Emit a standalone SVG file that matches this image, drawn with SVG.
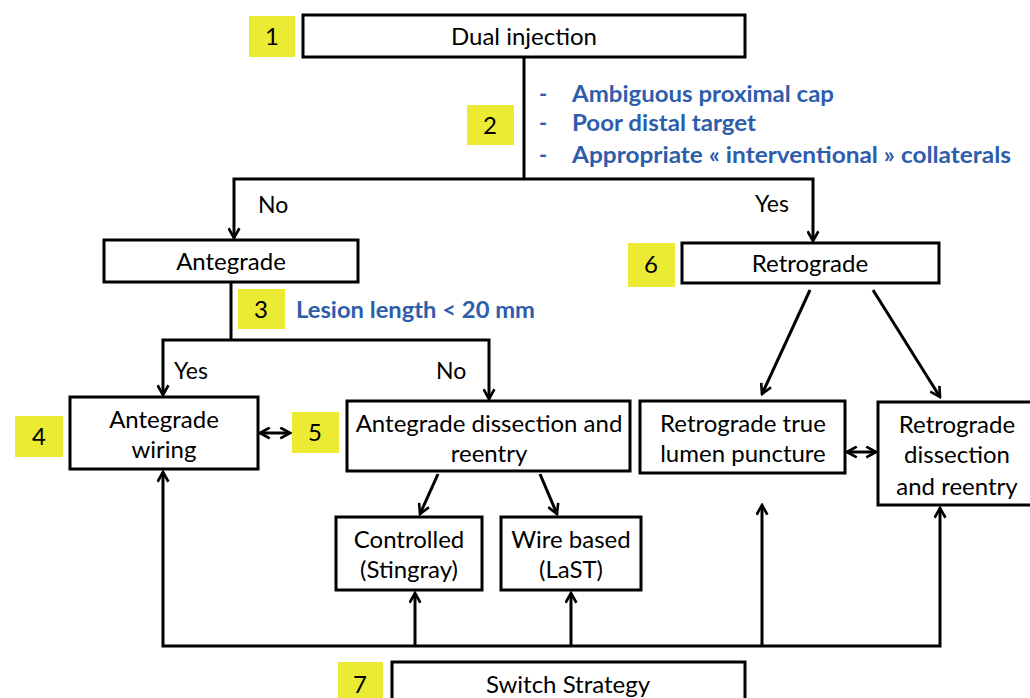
<svg xmlns="http://www.w3.org/2000/svg" width="1030" height="698" viewBox="0 0 1030 698">
<style>
.box{fill:#fff;stroke:#000;stroke-width:3}
.tag{fill:#EBEB33}
.t{font-family:Lato,"Open Sans","Liberation Sans",sans-serif;font-size:24px;fill:#000;text-anchor:middle}
.n{font-family:Lato,"Open Sans","Liberation Sans",sans-serif;font-size:24px;fill:#000;text-anchor:middle}
.b{font-family:Lato,"Open Sans","Liberation Sans",sans-serif;font-size:22px;font-weight:bold;fill:#2E5DAB}
.c{fill:none;stroke:#000;stroke-width:3}
.lbl{font-family:Lato,"Open Sans","Liberation Sans",sans-serif;font-size:23px;fill:#000}
</style>
<defs>
<marker id="ah" viewBox="0 0 12 12" refX="10.5" refY="6" markerWidth="13" markerHeight="13" markerUnits="userSpaceOnUse" orient="auto-start-reverse">
<path d="M1.5,1 L10.5,6 L1.5,11" fill="none" stroke="#000" stroke-width="2.4"/>
</marker>
</defs>
<rect width="1030" height="698" fill="#fff"/>

<g id="connectors">
<path class="c" d="M524,57 V179"/>
<path class="c" d="M234,238 V179 H813 V241" marker-start="url(#ah)" marker-end="url(#ah)"/>
<path class="c" d="M231,282 V340"/>
<path class="c" d="M163,395 V340 H489 V399" marker-start="url(#ah)" marker-end="url(#ah)"/>
<path class="c" d="M260,433 H290" marker-start="url(#ah)" marker-end="url(#ah)"/>
<path class="c" d="M438,474 L420,514" marker-end="url(#ah)"/>
<path class="c" d="M540,474 L557,514" marker-end="url(#ah)"/>
<path class="c" d="M810,290 L762,394" marker-end="url(#ah)"/>
<path class="c" d="M873,290 L940,397" marker-end="url(#ah)"/>
<path class="c" d="M847,452 H876" marker-start="url(#ah)" marker-end="url(#ah)"/>
<path class="c" d="M163,472 V646 H940 V508" marker-start="url(#ah)" marker-end="url(#ah)"/>
<path class="c" d="M415,646 V593" marker-end="url(#ah)"/>
<path class="c" d="M571,646 V593" marker-end="url(#ah)"/>
<path class="c" d="M762,646 V505" marker-end="url(#ah)"/>
<text class="lbl" x="258" y="213">No</text>
<text class="lbl" x="755" y="212">Yes</text>
<text class="lbl" x="174" y="379">Yes</text>
<text class="lbl" x="436" y="379">No</text>
</g>

<g id="tag1"><rect class="tag" x="249" y="16" width="46" height="41"/><text class="n" x="272" y="45">1</text></g>
<g id="dual"><rect class="box" x="303" y="15" width="442" height="42"/><text class="t" x="524" y="45">Dual injection</text></g>

<g id="tag2"><rect class="tag" x="467" y="105" width="47" height="40"/><text class="n" x="490" y="134">2</text></g>
<g id="criteria">
<text class="b" x="539" y="102">-</text>
<text class="b" x="539" y="131">-</text>
<text class="b" x="539" y="163">-</text>
<text class="b" x="572" y="102" textLength="262" lengthAdjust="spacingAndGlyphs">Ambiguous proximal cap</text>
<text class="b" x="572" y="131" textLength="184" lengthAdjust="spacingAndGlyphs">Poor distal target</text>
<text class="b" x="572" y="163" textLength="439" lengthAdjust="spacingAndGlyphs">Appropriate « interventional » collaterals</text>
</g>

<g id="antegrade"><rect class="box" x="104" y="240" width="254" height="42"/><text class="t" x="231" y="270">Antegrade</text></g>
<g id="tag6"><rect class="tag" x="628" y="243" width="47" height="44"/><text class="n" x="651" y="273">6</text></g>
<g id="retrograde"><rect class="box" x="682" y="243" width="257" height="40"/><text class="t" x="810" y="272">Retrograde</text></g>

<g id="tag3"><rect class="tag" x="238" y="289" width="47" height="40"/><text class="n" x="261" y="318">3</text></g>
<g id="lesion"><text class="b" x="296" y="318" textLength="239" lengthAdjust="spacingAndGlyphs">Lesion length &lt; 20 mm</text></g>

<g id="tag4"><rect class="tag" x="15" y="416" width="48" height="41"/><text class="n" x="39" y="445">4</text></g>
<g id="aw"><rect class="box" x="70" y="397" width="188" height="72"/><text class="t" x="164" y="428">Antegrade</text><text class="t" x="164" y="458">wiring</text></g>
<g id="tag5"><rect class="tag" x="292" y="412" width="47" height="41"/><text class="n" x="315" y="441">5</text></g>
<g id="adr"><rect class="box" x="347" y="401" width="283" height="70"/><text class="t" x="489" y="432">Antegrade dissection and</text><text class="t" x="489" y="462">reentry</text></g>
<g id="controlled"><rect class="box" x="336" y="517" width="146" height="73"/><text class="t" x="409" y="548">Controlled</text><text class="t" x="409" y="578">(Stingray)</text></g>
<g id="wire"><rect class="box" x="501" y="517" width="140" height="73"/><text class="t" x="571" y="548">Wire based</text><text class="t" x="571" y="578">(LaST)</text></g>
<g id="rtlp"><rect class="box" x="640" y="401" width="205" height="72"/><text class="t" x="743" y="432">Retrograde true</text><text class="t" x="743" y="462">lumen puncture</text></g>
<g id="rdr"><rect class="box" x="878" y="402" width="156" height="103"/><text class="t" x="957" y="433">Retrograde</text><text class="t" x="957" y="463">dissection</text><text class="t" x="957" y="495">and reentry</text></g>

<g id="tag7"><rect class="tag" x="338" y="662" width="45" height="40"/><text class="n" x="360" y="693">7</text></g>
<g id="switch"><rect class="box" x="392" y="662" width="353" height="44"/><text class="t" x="568" y="693">Switch Strategy</text></g>
</svg>
